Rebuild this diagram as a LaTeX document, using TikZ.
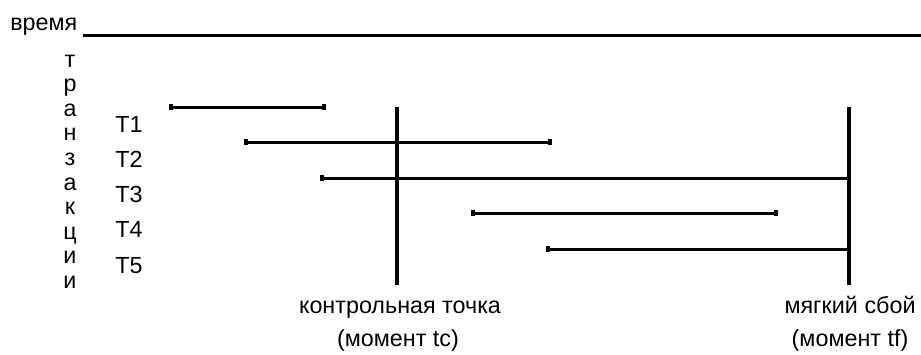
\documentclass[tikz,border=0pt]{standalone}
\usepackage{fontspec}
\setmainfont{Liberation Sans}
\usetikzlibrary{arrows.meta}
\begin{document}
\begin{tikzpicture}[x=0.75pt,y=-0.75pt,
  lbl/.style={font=\fontsize{17.5pt}{20pt}\selectfont, inner sep=0pt, anchor=base},
  bar/.style={line width=2.25pt},
  endbar/.style={bar, {Rectangle[length=3pt,width=4.8pt]}-{Rectangle[length=3pt,width=4.8pt]}},
  halfbar/.style={bar, {Rectangle[length=3pt,width=4.8pt]}-},
  vline/.style={line width=2.6pt}]
\useasboundingbox (0,0) rectangle (921,354);
% time axis
\node[lbl, anchor=base west] (time) at (10,30) {время};
\coordinate (ta) at (83,35);
\coordinate (tb) at (921,35);
\draw[bar] (ta) -- (tb);
% vertical word
\foreach \ch [count=\i from 0] in {т,р,а,н,з,а,к,ц,и,и}
  \node[lbl] (v\i) at (70,{67+24.6*\i}) {\ch};
% transaction labels
\node[lbl, anchor=base west] (T1) at (115,132) {T1};
\node[lbl, anchor=base west] (T2) at (115,167) {T2};
\node[lbl, anchor=base west] (T3) at (115,202) {T3};
\node[lbl, anchor=base west] (T4) at (115,237.5) {T4};
\node[lbl, anchor=base west] (T5) at (115,273) {T5};
% vertical markers
\coordinate (ctop) at (397,107);
\coordinate (cbot) at (397,285);
\coordinate (ftop) at (849,107);
\coordinate (fbot) at (849,285);
\draw[vline] (ctop) -- (cbot);
\draw[vline] (ftop) -- (fbot);
% transaction bars
\coordinate (a1) at (169,107); \coordinate (b1) at (326,107);
\coordinate (a2) at (244,142); \coordinate (b2) at (552,142);
\coordinate (a3) at (320,178); \coordinate (b3) at (849,178);
\coordinate (a4) at (471,213); \coordinate (b4) at (778,213);
\coordinate (a5) at (546,249); \coordinate (b5) at (849,249);
\draw[endbar] (a1) -- (b1);
\draw[endbar] (a2) -- (b2);
\draw[halfbar] (a3) -- (b3);
\draw[endbar] (a4) -- (b4);
\draw[halfbar] (a5) -- (b5);
% labels
\node[lbl] (cp) at (400,313) {контрольная точка};
\node[lbl] (cpm) at (398,346) {(момент tc)};
\node[lbl] (sf) at (850,313) {мягкий сбой};
\node[lbl] (sfm) at (850,346) {(момент tf)};
\end{tikzpicture}
\end{document}
